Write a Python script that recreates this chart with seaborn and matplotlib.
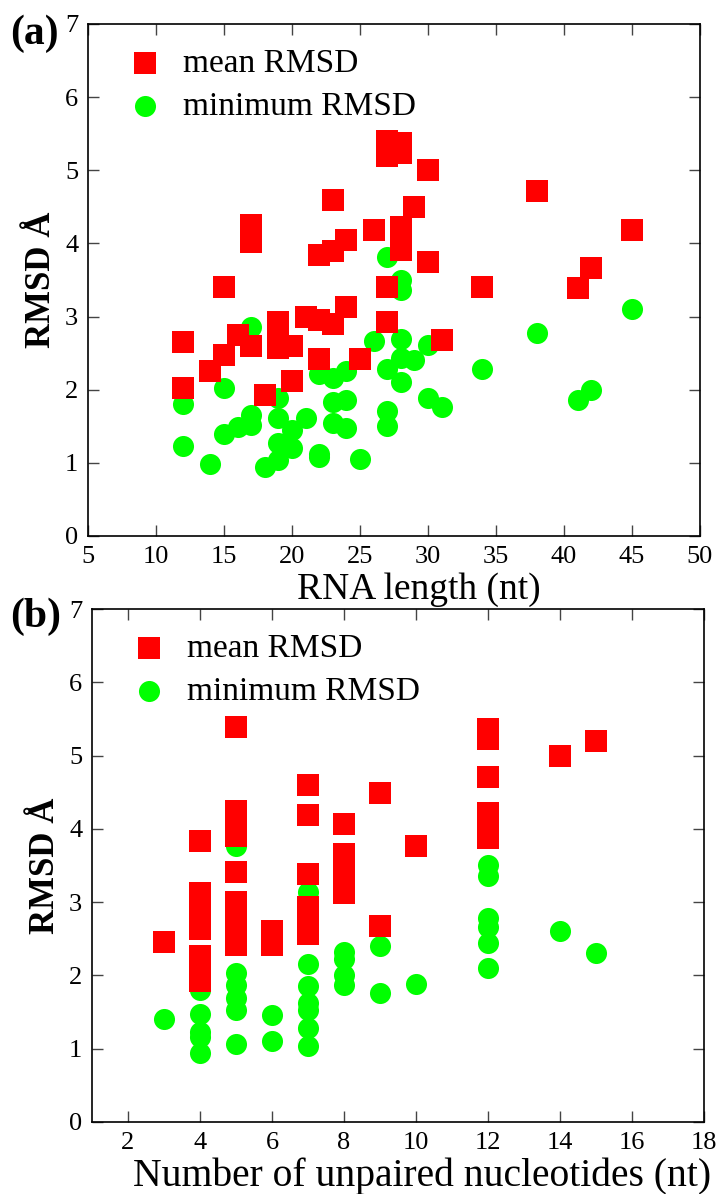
import matplotlib
matplotlib.use("Agg")
import matplotlib.pyplot as plt
import seaborn as sns
import pandas as pd

# (a) RMSD vs RNA length
len_mean = [12, 12, 14, 15, 15, 16, 17, 17, 17, 18, 19, 19, 19, 20, 20, 21,
            22, 22, 22, 23, 23, 23, 24, 24, 25, 26, 27, 27, 27, 27, 27,
            28, 28, 28, 28, 28, 29, 30, 30, 31, 34, 38, 41, 42, 45]
rmsd_mean_a = [2.65, 2.03, 2.25, 2.47, 3.41, 2.75, 2.6, 4.25, 4.02, 1.93, 2.92, 2.75, 2.57, 2.6, 2.12, 3.0,
               2.95, 2.42, 3.84, 2.9, 3.9, 4.59, 3.13, 4.05, 2.42, 4.19, 3.4, 2.93, 5.4, 5.25, 5.2,
               5.37, 5.23, 4.22, 4.05, 3.91, 4.5, 5.0, 3.75, 2.68, 3.4, 4.72, 3.39, 3.66, 4.18]

len_min = [12, 12, 14, 15, 15, 16, 17, 17, 17, 18, 19, 19, 19, 19, 20, 20, 21,
           22, 22, 22, 23, 23, 23, 24, 24, 24, 25, 26, 27, 27, 27, 27,
           28, 28, 28, 28, 28, 29, 30, 30, 31, 34, 38, 41, 42, 45]
rmsd_min_a = [1.8, 1.23, 0.98, 1.4, 2.02, 1.49, 2.86, 1.65, 1.52, 0.94, 1.88, 1.61, 1.27, 1.04, 1.45, 1.2, 1.62,
              2.22, 1.12, 1.08, 2.16, 1.83, 1.55, 2.26, 1.86, 1.47, 1.05, 2.67, 3.82, 2.29, 1.71, 1.51,
              3.5, 3.36, 2.7, 2.43, 2.11, 2.4, 2.61, 1.88, 1.76, 2.29, 2.77, 1.86, 2.0, 3.11]

# (b) RMSD vs number of unpaired nucleotides
unp_mean = [3, 4, 4, 4, 4, 4, 4, 4, 4,
            5, 5, 5, 5, 5, 5, 5, 5, 5, 5,
            6, 6, 7, 7, 7, 7, 7, 7, 8, 8, 8, 8, 8,
            9, 9, 10, 12, 12, 12, 12, 12, 12, 14, 15]
rmsd_mean_b = [2.45, 3.84, 3.13, 2.97, 2.8, 2.64, 2.26, 2.09, 1.92,
               5.39, 4.25, 4.07, 3.9, 3.41, 3.0, 2.85, 2.7, 2.56, 2.42,
               2.6, 2.42, 4.6, 4.19, 3.39, 2.93, 2.75, 2.57, 4.06, 3.66, 3.5, 3.3, 3.13,
               4.49, 2.68, 3.76, 5.36, 5.23, 4.71, 4.22, 4.05, 3.88, 4.99, 5.2]

unp_min = [3, 4, 4, 4, 4, 4, 5, 5, 5, 5, 5, 5, 6, 6,
           7, 7, 7, 7, 7, 7, 7, 8, 8, 8, 8, 9, 9, 10,
           12, 12, 12, 12, 12, 12, 14, 15]
rmsd_min_b = [1.41, 1.8, 1.48, 1.23, 1.16, 0.94, 3.76, 2.03, 1.87, 1.69, 1.53, 1.06, 1.46, 1.1,
              3.14, 2.16, 1.86, 1.62, 1.53, 1.28, 1.04, 2.32, 2.23, 2.0, 1.87, 2.4, 1.76, 1.88,
              3.51, 3.36, 2.78, 2.66, 2.44, 2.1, 2.6, 2.3]

sns.set_theme(style="ticks")
plt.rcParams['font.family'] = ['Liberation Serif', 'DejaVu Serif']
plt.rcParams['text.color'] = 'black'
plt.rcParams['axes.labelcolor'] = 'black'
plt.rcParams['xtick.labelcolor'] = 'black'
plt.rcParams['ytick.labelcolor'] = 'black'

fig = plt.figure(figsize=(7.24, 11.94), dpi=100)
ax_a = fig.add_axes([88 / 724, 1 - 536 / 1194, 612 / 724, 512 / 1194])
ax_b = fig.add_axes([92 / 724, 1 - 1122 / 1194, 612 / 724, 513 / 1194])

MS = 230


def draw_panel(ax, xm, ym, xn, yn, xlim, xticks, xlabel, xlabel_size):
    df_m = pd.DataFrame({"x": xm, "y": ym})
    df_n = pd.DataFrame({"x": xn, "y": yn})
    sns.scatterplot(data=df_n, x="x", y="y", ax=ax, marker="o", color="#00ff00",
                    s=MS, linewidth=0, label="minimum RMSD", zorder=2)
    sns.scatterplot(data=df_m, x="x", y="y", ax=ax, marker="s", color="#ff0000",
                    s=MS, linewidth=0, label="mean RMSD", zorder=3)
    ax.set_xlim(*xlim)
    ax.set_ylim(0, 7)
    ax.set_xticks(xticks)
    ax.set_yticks(range(0, 8))
    ax.set_xlabel(xlabel, fontsize=xlabel_size, labelpad=3, x=0.54)
    ax.set_ylabel("RMSD Å", fontsize=25, fontweight="bold", labelpad=5)
    ax.tick_params(direction="in", top=True, right=True, length=8, width=1,
                   color="#444444", labelsize=19, pad=7)
    for sp in ax.spines.values():
        sp.set_linewidth(1.2)
        sp.set_color("black")
    h, l = ax.get_legend_handles_labels()
    ax.legend(h[::-1], l[::-1], loc="upper left", bbox_to_anchor=(0.066, 0.952),
              frameon=False, fontsize=24, handlelength=1.0, handletextpad=0.65,
              borderaxespad=0, borderpad=0, labelspacing=0.36, markerscale=1.0)


draw_panel(ax_a, len_mean, rmsd_mean_a, len_min, rmsd_min_a,
           (5, 50), range(5, 51, 5), "RNA length (nt)", 27)
draw_panel(ax_b, unp_mean, rmsd_mean_b, unp_min, rmsd_min_b,
           (1, 18), range(2, 19, 2), "Number of unpaired nucleotides (nt)", 28.5)

fig.text(10 / 724, 1 - 34 / 1194, "(a)", fontsize=30, fontweight="bold", va="center", ha="left")
fig.text(10 / 724, 1 - 617 / 1194, "(b)", fontsize=30, fontweight="bold", va="center", ha="left")

fig.savefig("out.png", dpi=100)
